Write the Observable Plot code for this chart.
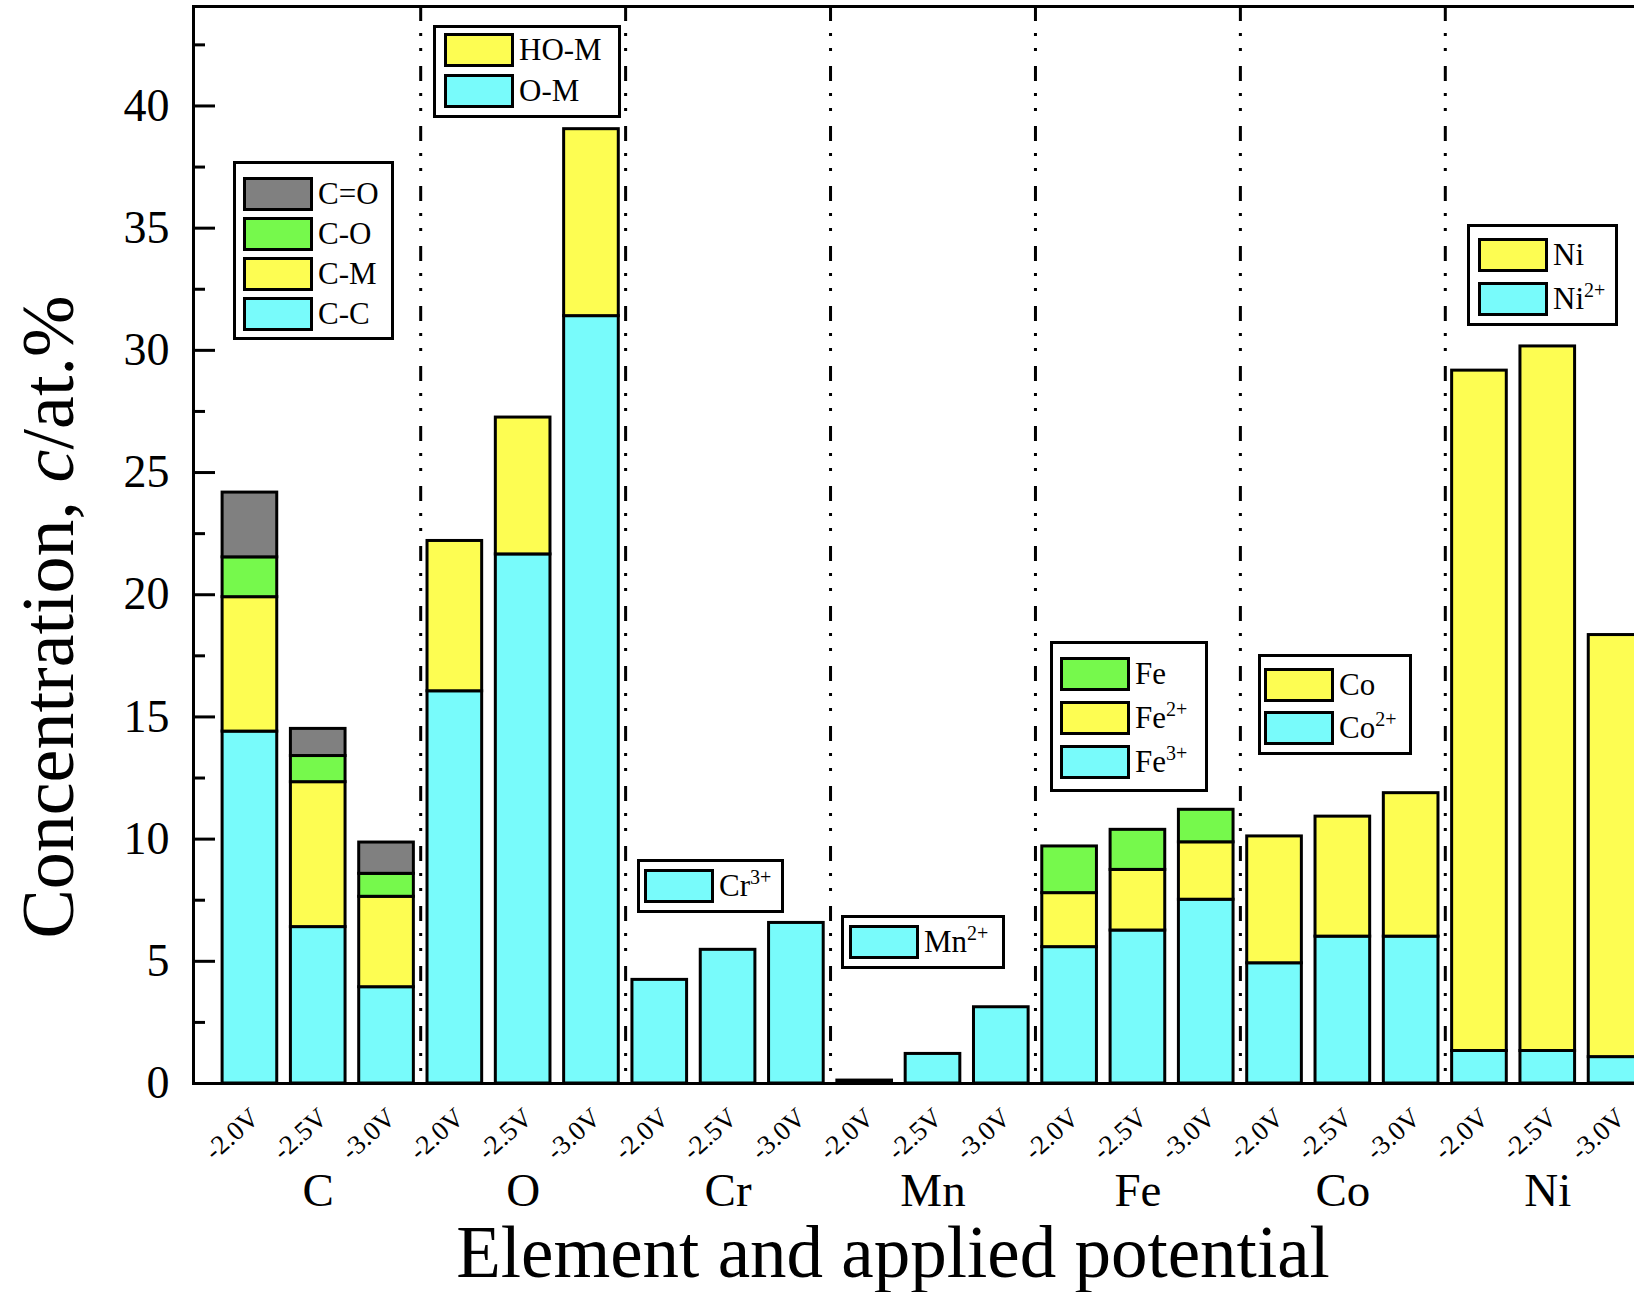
<!DOCTYPE html>
<html><head><meta charset="utf-8">
<script src="https://cdn.jsdelivr.net/npm/d3@7"></script>
<script src="https://cdn.jsdelivr.net/npm/@observablehq/plot@0.6"></script>
<style>
html,body{margin:0;padding:0;background:#fff;overflow:hidden;}
#wrap{position:relative;width:1634px;height:1292px;overflow:hidden;font-family:"Liberation Serif","Times New Roman",serif;color:#000;}
#chart{position:absolute;left:0;top:0;width:1672px;}
#chart svg{max-width:none !important;}
.legend{position:absolute;border:3px solid #000;box-sizing:border-box;background:#fff;}
.sw{position:absolute;border:3px solid #000;box-sizing:border-box;width:70px;height:34px;}
.lt{position:absolute;font-size:31px;line-height:34px;height:34px;white-space:nowrap;}
.lt sup{font-size:20px;line-height:0;vertical-align:0;position:relative;top:-0.6em;}
#ytitle{position:absolute;left:48px;top:617px;transform:translate(-50%,-50%) rotate(-90deg);font-size:74px;line-height:1;white-space:nowrap;}
#xtitle{position:absolute;left:893px;top:1216px;transform:translateX(-50%);font-size:73px;line-height:1;white-space:nowrap;}
</style>
</head><body>
<div id="wrap">
  <div id="chart"></div>
  <div id="ytitle">Concentration, <i>c</i>/at.%</div>
  <div id="xtitle">Element and applied potential</div>
</div>
<script>
// ---- data ----
const elements = ["C","O","Cr","Mn","Fe","Co","Ni"];
const potentials = ["-2.0V","-2.5V","-3.0V"];
// components listed bottom -> top of each stack; values per potential
const cComponents = ["C-C","C-M","C-O","C=O"];
const cValues = [[14.4,5.5,1.63,2.65],[6.4,5.93,1.07,1.11],[3.94,3.7,0.94,1.28]];
const oComponents = ["O-M","HO-M"];
const oValues = [[16.05,6.15],[21.65,5.6],[31.4,7.65]];
const crComponents = ["Cr3+"];
const crValues = [[4.24],[5.47],[6.57]];
const mnComponents = ["Mn2+"];
const mnValues = [[0.12],[1.21],[3.12]];
const feComponents = ["Fe3+","Fe2+","Fe"];
const feValues = [[5.58,2.21,1.91],[6.26,2.48,1.64],[7.52,2.35,1.33]];
const coComponents = ["Co2+","Co"];
const coValues = [[4.92,5.19],[6.01,4.91],[6.01,5.87]];
const niComponents = ["Ni2+","Ni"];
const niValues = [[1.33,27.84],[1.33,28.83],[1.08,17.27]];
const yMajorTicks = [0,5,10,15,20,25,30,35,40];
const yMinorTicks = [2.5,7.5,12.5,17.5,22.5,27.5,32.5,37.5,42.5];

// ---- styles ----
const layerColors = ["#78FBFB","#FDFD52","#76F94C","#808080"];
const groups = [[cComponents,cValues],[oComponents,oValues],[crComponents,crValues],[mnComponents,mnValues],[feComponents,feValues],[coComponents,coValues],[niComponents,niValues]];

const rows = [];
elements.forEach((el,g)=>{
  const [comps, vals] = groups[g];
  potentials.forEach((p,k)=>{
    const pos = g*potentials.length + k + 1;
    let base = 0;
    comps.forEach((c,j)=>{
      const v = vals[k][j];
      rows.push({element:el, potential:p, component:c, layer:j, pos, y1:base, y2:base+v});
      base += v;
    });
  });
});
const nBars = elements.length*potentials.length;
const positions = d3.range(1, nBars+1);
const groupCenters = elements.map((_,g)=>g*3+2);
const separators = elements.slice(1).map((_,g)=>(g+1)*3+0.5);

const W = 1672, ML = 193;
const pad = 0.826;
const chart = Plot.plot({
  width: W, height: 1292,
  marginLeft: ML, marginRight: 0, marginTop: 6, marginBottom: 209,
  x: {type:"linear", domain:[1-pad, nBars+pad]},
  y: {domain:[0, 44.07]},
  color: {type:"identity"},
  style: {fontFamily:"Liberation Serif, Times New Roman, serif", background:"white", color:"black", maxWidth:"none"},
  marks: [
    Plot.rect(rows, {x1:d=>d.pos-0.4, x2:d=>d.pos+0.4, y1:"y1", y2:"y2", fill:d=>layerColors[d.layer], stroke:"black", strokeWidth:3}),
    Plot.ruleX(separators, {stroke:"black", strokeWidth:3, strokeDasharray:"15,12,3,12,3,15"}),
    Plot.ruleY(yMajorTicks, {stroke:"black", strokeWidth:3, insetRight: W-ML-22}),
    Plot.ruleY(yMinorTicks, {stroke:"black", strokeWidth:3, insetRight: W-ML-12}),
    Plot.axisY({ticks: yMajorTicks, tickSize:0, tickPadding:24, fontSize:46, label:null}),
    Plot.axisX({ticks: positions, tickFormat: i=>potentials[(i-1)%3], tickSize:0, tickRotate:-42, tickPadding:30, dx:5, fontSize:27, letterSpacing:-1, label:null}),
    Plot.axisX({ticks: groupCenters, tickFormat: i=>elements[(i-2)/3], tickSize:0, tickPadding:89, fontSize:47, label:null}),
    Plot.frame({stroke:"black", strokeWidth:3})
  ]
});
chart.style.maxWidth = "none";
chart.setAttribute("width", W);
document.getElementById("chart").appendChild(chart);

// ---- legends (drawn inside the plot area) ----
const legendLayout = [
  {g:0, left:233, top:161, w:161, h:179, sx:10, row0:33, gap:40},
  {g:1, left:433, top:25, w:188, h:93, sx:11, row0:25, gap:41},
  {g:2, left:637, top:859, w:147, h:54, sx:7, row0:27, gap:0},
  {g:3, left:841, top:915, w:164, h:54, sx:8, row0:27, gap:0},
  {g:4, left:1050, top:641, w:158, h:151, sx:10, row0:33, gap:44},
  {g:5, left:1258, top:654, w:154, h:101, sx:6, row0:31, gap:43},
  {g:6, left:1467, top:224, w:151, h:102, sx:11, row0:31, gap:44}
];
const wrap = document.getElementById("wrap");
function labelHTML(s){
  const m = s.match(/^(.*?)(\d\+)$/);
  return m ? `${m[1]}<sup>${m[2]}</sup>` : s;
}
legendLayout.forEach(L=>{
  const box = document.createElement("div");
  box.className = "legend";
  Object.assign(box.style, {left:L.left+"px", top:L.top+"px", width:L.w+"px", height:L.h+"px"});
  const comps = groups[L.g][0];
  const order = comps.map((c,j)=>j).reverse();
  order.forEach((j,i)=>{
    const cy = L.row0 + i*L.gap - 3;
    const sw = document.createElement("div");
    sw.className = "sw";
    Object.assign(sw.style, {left:(L.sx-3)+"px", top:(cy-17)+"px", background:layerColors[j]});
    box.appendChild(sw);
    const t = document.createElement("div");
    t.className = "lt";
    t.innerHTML = labelHTML(comps[j]);
    Object.assign(t.style, {left:(L.sx-3+75)+"px", top:(cy-17)+"px"});
    box.appendChild(t);
  });
  wrap.appendChild(box);
});
</script>
</body></html>
